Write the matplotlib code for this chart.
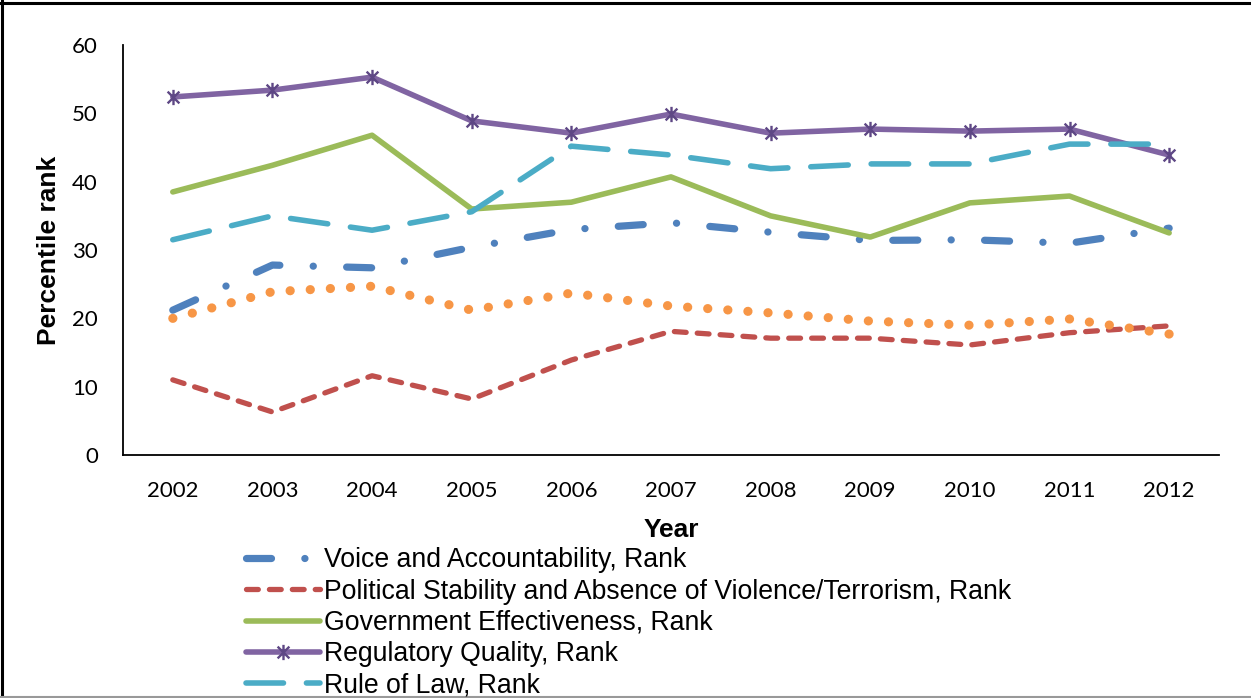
import numpy as np
import matplotlib.pyplot as plt
from matplotlib.path import Path
from matplotlib.lines import Line2D

years = ["2002", "2003", "2004", "2005", "2006", "2007",
         "2008", "2009", "2010", "2011", "2012"]

voice = [21.2, 27.8, 27.4, 30.4, 33.0, 34.0, 32.6, 31.4, 31.5, 31.0, 33.2]
stability = [11.0, 6.3, 11.6, 8.2, 13.9, 18.1, 17.1, 17.1, 16.1, 17.9, 18.9]
effectiveness = [38.5, 42.4, 46.8, 36.0, 37.0, 40.7, 35.0, 31.9, 36.9, 37.9, 32.5]
regulatory = [52.4, 53.4, 55.3, 48.9, 47.1, 49.9, 47.1, 47.7, 47.4, 47.7, 43.9]
rule_of_law = [31.5, 35.0, 32.9, 35.6, 45.2, 43.9, 41.9, 42.6, 42.6, 45.5, 45.5]
corruption = [20.0, 23.9, 24.7, 21.2, 23.7, 21.8, 20.8, 19.6, 19.0, 19.9, 17.7]

labels = ["Voice and Accountability, Rank",
          "Political Stability and Absence of Violence/Terrorism, Rank",
          "Government Effectiveness, Rank",
          "Regulatory Quality, Rank",
          "Rule of Law, Rank",
          "Control of Corruption, Rank"]

plt.rcParams['lines.scale_dashes'] = False
plt.rcParams['font.family'] = ['Liberation Sans', 'DejaVu Sans']

# asterisk marker: an x with a vertical bar through it
star = Path([(-1, -1), (1, 1), (-1, 1), (1, -1), (0, -1.3), (0, 1.3)],
            [Path.MOVETO, Path.LINETO, Path.MOVETO, Path.LINETO,
             Path.MOVETO, Path.LINETO])


def main():
    fig = plt.figure(figsize=(12.51, 6.98), dpi=100)
    ax = fig.add_axes([0.0983, 0.3481, 0.8761, 0.5874])
    x = np.arange(len(years))

    common = dict(solid_joinstyle='round', dash_joinstyle='round')
    ax.plot(x, voice, color='#4F81BD', lw=5.2, dashes=(18, 24, 0.1, 24),
            dash_capstyle='round', label=labels[0], **common)
    ax.plot(x, stability, color='#C0504D', lw=3.8, dashes=(8.5, 8),
            dash_capstyle='round', label=labels[1], **common)
    ax.plot(x, effectiveness, color='#9BBB59', lw=4.0,
            solid_capstyle='round', label=labels[2], **common)
    ax.plot(x, regulatory, color='#8064A2', lw=4.0, solid_capstyle='round',
            marker=star, ms=11, mew=1.7, mec='#5E4785', mfc='none',
            label=labels[3], **common)
    ax.plot(x, rule_of_law, color='#4BACC6', lw=4.0, dashes=(27, 16.5),
            dash_capstyle='round', label=labels[4], **common)
    ax.plot(x, corruption, color='#F79646', lw=6.6, dashes=(0.1, 14.4),
            dash_capstyle='round', label=labels[5], **common)

    ax.set_xlim(-0.5, len(years) - 0.5)
    ax.set_ylim(0, 60)
    ax.set_yticks(np.arange(0, 61, 10))
    ax.set_xticks(x)
    ax.set_xticklabels(years)
    for side in ('top', 'right'):
        ax.spines[side].set_visible(False)
    for side in ('left', 'bottom'):
        ax.spines[side].set_linewidth(1.3)
        ax.spines[side].set_color('black')
    ax.tick_params(length=0, labelsize=16)
    ax.tick_params(axis='y', pad=18)
    ax.tick_params(axis='x', pad=19)
    for t in ax.get_xticklabels() + ax.get_yticklabels():
        t.set_fontfamily('Lato')

    ax.set_xlabel("Year", fontsize=19, fontweight='bold', labelpad=12)
    ax.set_ylabel("Percentile rank", fontsize=19, fontweight='bold', labelpad=8)

    fig.legend(loc='upper left', bbox_to_anchor=(0.1965, 0.216),
               frameon=False, fontsize=19.2, handlelength=2.8,
               handletextpad=0.12, labelspacing=0.2, borderpad=0,
               borderaxespad=0)

    # outer frame of the chart area
    fig.add_artist(Line2D([0.0016, 0.0016], [0, 1], transform=fig.transFigure,
                          color='black', lw=2.2))
    fig.add_artist(Line2D([0, 1], [0.9964, 0.9964], transform=fig.transFigure,
                          color='black', lw=2.2))
    fig.add_artist(Line2D([0, 1], [0.001, 0.001], transform=fig.transFigure,
                          color='#999999', lw=1.5))

    fig.savefig("out.png", dpi=100)


if __name__ == '__main__':
    main()
